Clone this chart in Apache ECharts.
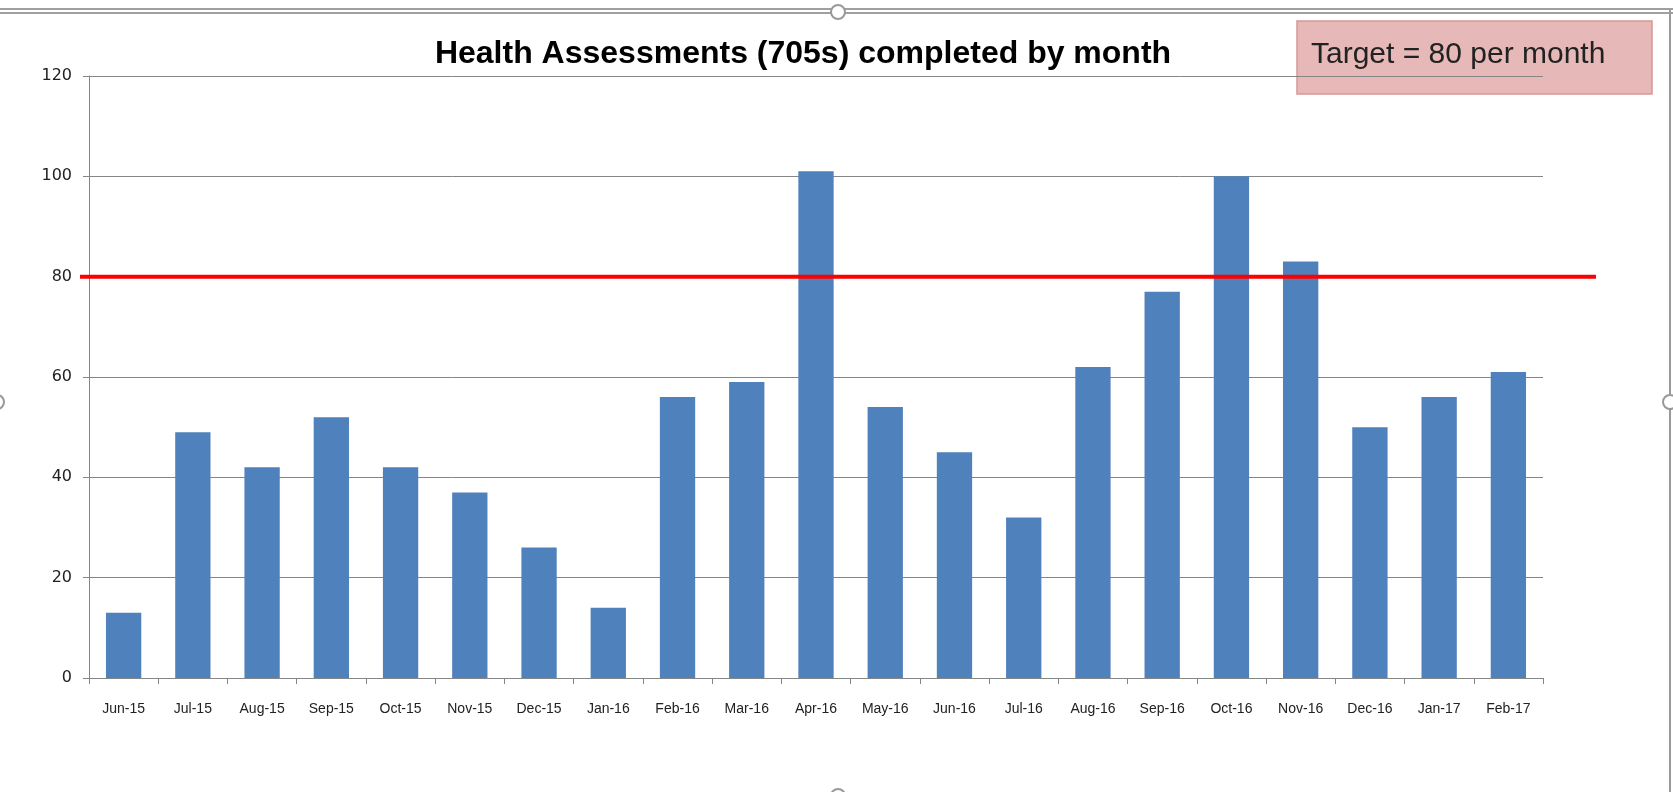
<!DOCTYPE html>
<html>
<head>
<meta charset="utf-8">
<script src="https://cdn.jsdelivr.net/npm/echarts@6/dist/echarts.min.js"></script>
<style>
html,body{margin:0;padding:0;background:#fff;}
#chart{width:1673px;height:792px;}
</style>
</head>
<body>
<div id="chart"></div>
<script>
const categories = ["Jun-15","Jul-15","Aug-15","Sep-15","Oct-15","Nov-15","Dec-15","Jan-16","Feb-16","Mar-16","Apr-16","May-16","Jun-16","Jul-16","Aug-16","Sep-16","Oct-16","Nov-16","Dec-16","Jan-17","Feb-17"];
const completed = [13,49,42,52,42,37,26,14,56,59,101,54,45,32,62,77,100,83,50,56,61];
const target = 80;
const yTicks = [0,20,40,60,80,100,120];
const titleText = "Health Assessments (705s) completed by month";
const targetText = "Target = 80 per month";

const chart = echarts.init(document.getElementById('chart'), null, {renderer:'canvas'});
const option = {
  backgroundColor: '#ffffff',
  animation: false,
  title: {
    text: titleText,
    left: 798, top: 33, textAlign: 'center',
    textStyle: {fontFamily: 'Liberation Sans', fontWeight: 'bold', fontSize: 32, color: '#000'}
  },
  graphic: [
    {type:'line', shape:{x1:0,y1:9,x2:1673,y2:9}, style:{stroke:'#a0a0a0', lineWidth:2}},
    {type:'line', shape:{x1:0,y1:13,x2:1673,y2:13}, style:{stroke:'#a0a0a0', lineWidth:2}},
    {type:'line', shape:{x1:1670,y1:10,x2:1670,y2:792}, style:{stroke:'#9a9a9a', lineWidth:2}},
    {type:'circle', shape:{cx:838,cy:12,r:7}, style:{fill:'#fff', stroke:'#999', lineWidth:2}},
    {type:'circle', shape:{cx:1670,cy:402,r:7}, style:{fill:'#fff', stroke:'#999', lineWidth:2}},
    {type:'circle', shape:{cx:838,cy:796,r:7}, style:{fill:'#fff', stroke:'#999', lineWidth:2}},
    {type:'circle', shape:{cx:-3,cy:402,r:7}, style:{fill:'#fff', stroke:'#999', lineWidth:2}},
    {type:'rect', shape:{x:1297,y:21,width:355,height:73}, style:{fill:'#E6B8B7', stroke:'#D99694', lineWidth:1.5}},
    {type:'text', x:1311, y:55, style:{text: targetText, font: '30px "Liberation Sans"', fill:'#222', textVerticalAlign:'middle'}}
  ],
  grid: [
    {left: 89, right: 130, top: 76, bottom: 114, containLabel: false},
    {left: 80, right: 77, top: 76, bottom: 114, containLabel: false}
  ],
  xAxis: [
    {
      type: 'category', data: categories, gridIndex: 0,
      boundaryGap: true,
      axisLine: {show: true, lineStyle: {color: '#868686', width: 1}},
      axisTick: {show: true, alignWithLabel: false, length: 6, lineStyle: {color: '#868686'}},
      axisLabel: {margin: 24, fontFamily: 'Liberation Sans', fontSize: 14, color: '#222', interval: 0}
    },
    {type: 'value', gridIndex: 1, min: 0, max: 1, show: false}
  ],
  yAxis: [
    {
      type: 'value', gridIndex: 0, min: yTicks[0], max: yTicks[yTicks.length-1], interval: 20,
      axisLine: {show: true, lineStyle: {color: '#868686', width: 1}},
      axisTick: {show: true, length: 6, lineStyle: {color: '#868686'}},
      axisLabel: {margin: 17, fontFamily: 'DejaVu Sans', fontSize: 16, color: '#222'},
      splitLine: {show: true, lineStyle: {color: '#868686', width: 1}}
    },
    {type: 'value', gridIndex: 1, min: yTicks[0], max: yTicks[yTicks.length-1], show: false}
  ],
  series: [
    {
      type: 'bar', data: completed, xAxisIndex: 0, yAxisIndex: 0,
      barCategoryGap: '49%',
      itemStyle: {color: '#4F81BD'}
    },
    {
      type: 'line', xAxisIndex: 1, yAxisIndex: 1,
      data: [[0, target], [1, target]],
      symbol: 'none',
      lineStyle: {color: '#FF0000', width: 4},
      z: 5
    }
  ]
};
chart.setOption(option);
</script>
</body>
</html>
